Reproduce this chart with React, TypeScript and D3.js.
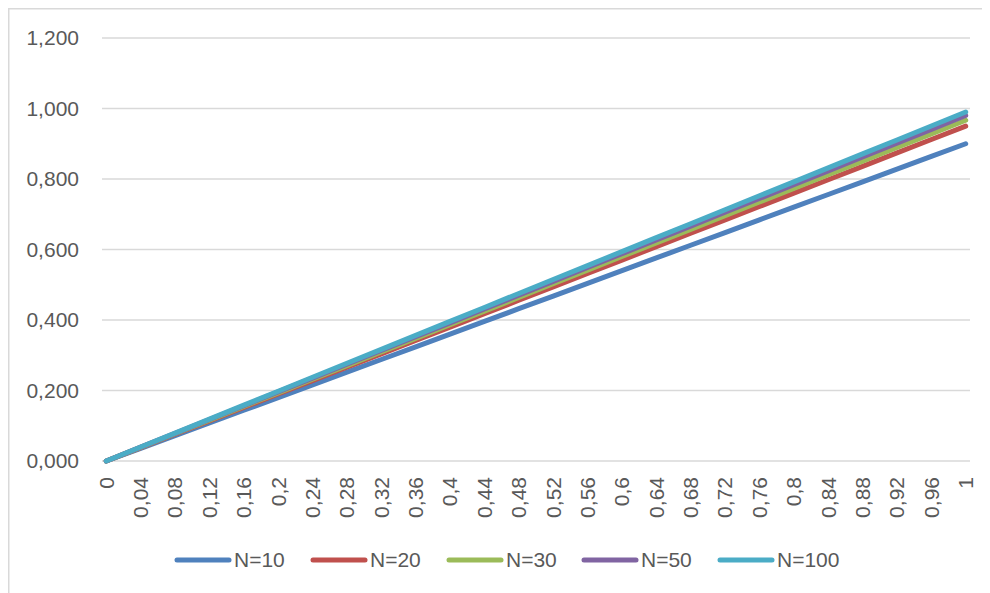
import React from "react";
import * as d3 from "d3";

// Category labels shown on the horizontal axis (every fourth of 0..1 step 0.01)
const categories: number[] = [
  0, 0.04, 0.08, 0.12, 0.16, 0.2, 0.24, 0.28, 0.32, 0.36, 0.4, 0.44, 0.48,
  0.52, 0.56, 0.6, 0.64, 0.68, 0.72, 0.76, 0.8, 0.84, 0.88, 0.92, 0.96, 1,
];

const n10: number[] = [
  0, 0.036, 0.072, 0.108, 0.144, 0.18, 0.216, 0.252, 0.288, 0.324, 0.36, 0.396,
  0.432, 0.468, 0.504, 0.54, 0.576, 0.612, 0.648, 0.684, 0.72, 0.756, 0.792,
  0.828, 0.864, 0.9,
];
const n20: number[] = [
  0, 0.038, 0.076, 0.114, 0.152, 0.19, 0.228, 0.266, 0.304, 0.342, 0.38, 0.418,
  0.456, 0.494, 0.532, 0.57, 0.608, 0.646, 0.684, 0.722, 0.76, 0.798, 0.836,
  0.874, 0.912, 0.95,
];
const n30: number[] = [
  0, 0.0387, 0.0773, 0.116, 0.1547, 0.1933, 0.232, 0.2707, 0.3093, 0.348,
  0.3867, 0.4253, 0.464, 0.5027, 0.5413, 0.58, 0.6187, 0.6573, 0.696, 0.7347,
  0.7733, 0.812, 0.8507, 0.8893, 0.928, 0.9667,
];
const n50: number[] = [
  0, 0.0392, 0.0784, 0.1176, 0.1568, 0.196, 0.2352, 0.2744, 0.3136, 0.3528,
  0.392, 0.4312, 0.4704, 0.5096, 0.5488, 0.588, 0.6272, 0.6664, 0.7056, 0.7448,
  0.784, 0.8232, 0.8624, 0.9016, 0.9408, 0.98,
];
const n100: number[] = [
  0, 0.0396, 0.0792, 0.1188, 0.1584, 0.198, 0.2376, 0.2772, 0.3168, 0.3564,
  0.396, 0.4356, 0.4752, 0.5148, 0.5544, 0.594, 0.6336, 0.6732, 0.7128, 0.7524,
  0.792, 0.8316, 0.8712, 0.9108, 0.9504, 0.99,
];

const seriesNames: string[] = ["N=10", "N=20", "N=30", "N=50", "N=100"];
const seriesColors: string[] = ["#4F81BD", "#C0504D", "#9BBB59", "#8064A2", "#4BACC6"];
const yTicks: number[] = [0, 0.2, 0.4, 0.6, 0.8, 1.0, 1.2];

const FONT = "'Liberation Sans', Arial, sans-serif";
const TEXT = "#595959";
const GRID = "#D9D9D9";
const FS = 21;

// decimal comma formatting
const fmtY = (v: number) => v.toFixed(3).replace(".", ",");
const fmtX = (v: number) => String(v).replace(".", ",");

export default function App() {
  const W = 982;
  const H = 585;
  const series = [n10, n20, n30, n50, n100];

  // page coordinates; the group below cancels the body margin
  const plotLeft = 102;
  const plotRight = 970;
  const nCats = 101;
  const band = (plotRight - plotLeft) / nCats;
  const x = d3
    .scaleLinear()
    .domain([0, 1])
    .range([plotLeft + band / 2, plotRight - band / 2]);
  const y = d3.scaleLinear().domain([0, 1.2]).range([461, 38]);

  const line = d3
    .line<number>()
    .x((_, i) => x(categories[i]))
    .y((d) => y(d));

  const legendX = [175, 311, 447, 582, 718];

  return (
    <svg width={W} height={H} style={{ display: "block" }}>
      <g transform="translate(-8,-8)">
        <rect x={0} y={0} width={990} height={593} fill="#fff" />
        <rect
          x={8.75}
          y={8.75}
          width={1100}
          height={700}
          fill="none"
          stroke={GRID}
          strokeWidth={1.5}
        />
        {yTicks.map((t) => (
          <g key={t}>
            <line
              x1={plotLeft}
              x2={plotRight}
              y1={y(t)}
              y2={y(t)}
              stroke={GRID}
              strokeWidth={1.5}
            />
            <text
              x={79}
              y={y(t)}
              dy="0.35em"
              textAnchor="end"
              fontFamily={FONT}
              fontSize={FS}
              fill={TEXT}
            >
              {fmtY(t)}
            </text>
          </g>
        ))}
        {categories.map((c) => (
          <text
            key={c}
            transform={`translate(${x(c)},${477}) rotate(-90)`}
            dy="0.35em"
            textAnchor="end"
            fontFamily={FONT}
            fontSize={FS}
            fill={TEXT}
          >
            {fmtX(c)}
          </text>
        ))}
        {series.map((s, i) => (
          <path
            key={seriesNames[i]}
            d={line(s) || ""}
            fill="none"
            stroke={seriesColors[i]}
            strokeWidth={5}
            strokeLinecap="round"
            strokeLinejoin="round"
          />
        ))}
        {seriesNames.map((name, i) => (
          <g key={name} transform={`translate(${legendX[i]},560)`}>
            <line
              x1={2}
              x2={54}
              y1={0}
              y2={0}
              stroke={seriesColors[i]}
              strokeWidth={5}
              strokeLinecap="round"
            />
            <text
              x={59}
              y={0}
              dy="0.35em"
              fontFamily={FONT}
              fontSize={FS}
              fill={TEXT}
            >
              {name}
            </text>
          </g>
        ))}
      </g>
    </svg>
  );
}
